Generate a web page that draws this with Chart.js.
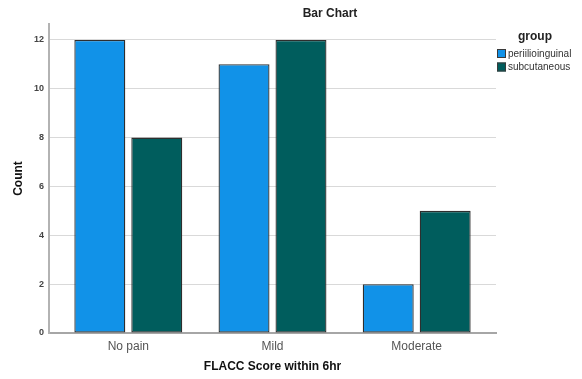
<!DOCTYPE html>
<html>
<head>
<meta charset="utf-8">
<script src="https://cdn.jsdelivr.net/npm/chart.js@4"></script>
<style>
  html, body { margin: 0; padding: 0; background: #fff; }
  #wrap { position: relative; width: 582px; height: 379px; }
</style>
</head>
<body>
<div id="wrap"><canvas id="barChart" width="582" height="379"></canvas></div>
<script>
let categories = ["No pain", "Mild", "Moderate"];
let periilioinguinal = [12, 11, 2];
let subcutaneous = [8, 12, 5];
let yTicks = [0, 2, 4, 6, 8, 10, 12];

let fontFamily = "Arial, 'Liberation Sans', sans-serif";

function toPoints(values) {
    return values.map((v, i) => ({ x: i, y: v }));
}

// title and legend drawn on the canvas after the chart
let extraText = {
    id: 'extraText',
    afterDraw(chart) {
        let ctx = chart.ctx;
        ctx.save();
        ctx.fillStyle = '#222';
        ctx.textBaseline = 'middle';
        ctx.textAlign = 'center';
        ctx.font = 'bold 12px ' + fontFamily;
        ctx.fillText('Bar Chart', 330, 14);

        ctx.font = 'bold 12px ' + fontFamily;
        ctx.fillText('group', 535, 37);

        let items = [
            { label: 'periilioinguinal', color: '#1192e8' },
            { label: 'subcutaneous', color: '#005d5d' },
        ];
        ctx.textAlign = 'left';
        ctx.font = '10px ' + fontFamily;
        items.forEach((it, i) => {
            let y = 49 + i * 13.5;
            ctx.fillStyle = it.color;
            ctx.fillRect(497, y, 9, 9);
            ctx.strokeStyle = '#3a3a3a';
            ctx.lineWidth = 1;
            ctx.strokeRect(497.5, y + 0.5, 8, 8);
            ctx.fillStyle = '#333';
            ctx.fillText(it.label, 508, y + 5);
        });
        ctx.restore();
    }
};

let chart = new Chart(document.getElementById('barChart'), {
    type: 'bar',
    data: {
        datasets: [
            {
                label: 'periilioinguinal',
                data: toPoints(periilioinguinal),
                backgroundColor: '#1192e8',
                borderColor: '#2e2e2e',
                borderWidth: 1.3,
                borderSkipped: false,
                categoryPercentage: 0.79,
                barPercentage: 0.895
            },
            {
                label: 'subcutaneous',
                data: toPoints(subcutaneous),
                backgroundColor: '#005d5d',
                borderColor: '#2e2e2e',
                borderWidth: 1.3,
                borderSkipped: false,
                categoryPercentage: 0.79,
                barPercentage: 0.895
            }
        ]
    },
    options: {
        responsive: false,
        animation: false,
        layout: { padding: { top: 24, right: 86, left: 0, bottom: 0 } },
        plugins: {
            legend: { display: false },
            title: { display: false },
            tooltip: { enabled: false }
        },
        scales: {
            x: {
                type: 'linear',
                offset: false,
                min: -0.55,
                max: 2.55,
                afterBuildTicks: (scale) => {
                    scale.ticks = categories.map((c, i) => ({ value: i }));
                },
                afterFit: (scale) => { scale.height = 46; },
                grid: { display: false, drawTicks: false, offset: false },
                border: { display: true, color: '#a6a6a6', width: 2 },
                ticks: {
                    callback: (v) => categories[v],
                    color: '#555',
                    font: { size: 12, family: fontFamily },
                    padding: 6,
                    maxRotation: 0
                },
                title: {
                    display: true,
                    text: 'FLACC Score within 6hr',
                    color: '#111',
                    font: { size: 12, weight: 'bold', family: fontFamily },
                    padding: { top: 0, bottom: 5 }
                }
            },
            y: {
                min: 0,
                max: 12.65,
                afterBuildTicks: (scale) => {
                    scale.ticks = yTicks.map(v => ({ value: v }));
                },
                afterFit: (scale) => { scale.width = 49; },
                grid: { color: '#d9d9d9', drawTicks: false, lineWidth: 1 },
                border: { display: true, color: '#b3b3b3', width: 2 },
                ticks: {
                    color: '#444',
                    font: { size: 9, weight: 'bold', family: fontFamily },
                    padding: 5
                },
                title: {
                    display: true,
                    text: 'Count',
                    color: '#111',
                    font: { size: 12, weight: 'bold', family: fontFamily },
                    padding: { top: 11, bottom: 0 }
                }
            }
        }
    },
    plugins: [extraText]
});
</script>
</body>
</html>
